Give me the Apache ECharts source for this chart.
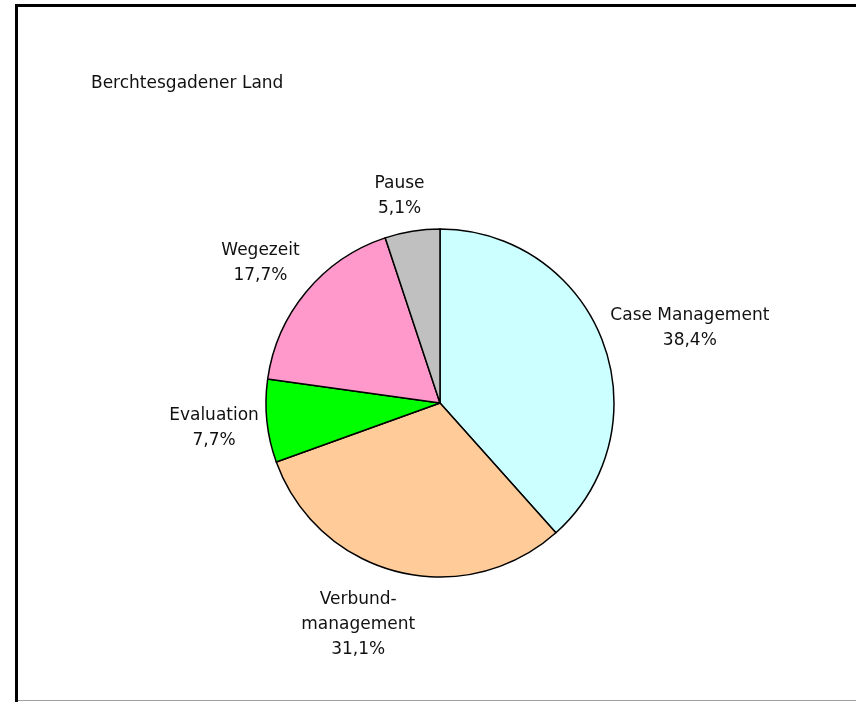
<!DOCTYPE html>
<html>
<head>
<meta charset="utf-8">
<script src="https://cdn.jsdelivr.net/npm/echarts@6/dist/echarts.min.js"></script>
<style>
  html, body { margin: 0; padding: 0; background: #fff; }
  #chart { width: 856px; height: 702px; }
</style>
</head>
<body>
<div id="chart"></div>
<script>
// Time shares for the Berchtesgadener Land region
const titleText = 'Berchtesgadener Land';
const categories = ['Case Management', 'Verbund-\nmanagement', 'Evaluation', 'Wegezeit', 'Pause'];
const shares = [38.4, 31.1, 7.7, 17.7, 5.1];
const sliceColors = ['#CCFFFF', '#FFCC99', '#00FF00', '#FF99CC', '#C0C0C0'];

const pieCenter = [440, 403];
const pieRadius = 174;
const labelGap = 7;
// small per-label nudges [dx, dy] applied after the radial placement
const labelNudge = [[3, 19], [-25, -3], [1, 1], [-5, 5], [-7, 0]];
const fontStack = 'Tahoma, "DejaVu Sans", "Noto Sans", sans-serif';

const total = shares.reduce((a, b) => a + b, 0);
// mid angle of each slice, clockwise from 12 o'clock
const midAngles = [];
{
  let acc = 0;
  shares.forEach(v => {
    midAngles.push(((acc + v / 2) / total) * Math.PI * 2);
    acc += v;
  });
}

const chart = echarts.init(document.getElementById('chart'), null, { renderer: 'canvas' });

chart.setOption({
  animation: false,
  backgroundColor: '#fff',
  graphic: [
    { type: 'line', shape: { x1: 16.5, y1: 4, x2: 16.5, y2: 702 }, style: { stroke: '#000', lineWidth: 3 } },
    { type: 'line', shape: { x1: 15, y1: 5.5, x2: 856, y2: 5.5 }, style: { stroke: '#000', lineWidth: 3 } },
    { type: 'line', shape: { x1: 18, y1: 700.5, x2: 856, y2: 700.5 }, style: { stroke: '#a0a0a0', lineWidth: 1 } },
    {
      type: 'text', left: 91, top: 75,
      style: { text: titleText, font: '17px ' + fontStack, fill: '#111' }
    }
  ],
  series: [{
    type: 'pie',
    center: pieCenter,
    radius: pieRadius,
    startAngle: 90,
    clockwise: true,
    avoidLabelOverlap: false,
    itemStyle: { borderColor: '#000', borderWidth: 1.5 },
    emphasis: { disabled: true },
    label: {
      show: true,
      position: 'outside',
      fontFamily: fontStack,
      fontSize: 17,
      lineHeight: 25,
      color: '#111',
      align: 'center',
      formatter: p => p.name + '\n' + p.value.toFixed(1).replace('.', ',') + '%'
    },
    labelLine: { show: false },
    labelLayout: params => {
      const i = params.dataIndex;
      const a = midAngles[i];
      const ux = Math.sin(a), uy = -Math.cos(a);
      const w = params.labelRect.width, h = params.labelRect.height;
      const ext = Math.abs(ux) * w / 2 + Math.abs(uy) * h / 2;
      const r = pieRadius + labelGap + ext;
      return {
        x: pieCenter[0] + r * ux + labelNudge[i][0],
        y: pieCenter[1] + r * uy + labelNudge[i][1],
        align: 'center',
        verticalAlign: 'middle',
        hideOverlap: false
      };
    },
    data: categories.map((name, i) => ({
      name,
      value: shares[i],
      itemStyle: { color: sliceColors[i] }
    }))
  }]
});
</script>
</body>
</html>
